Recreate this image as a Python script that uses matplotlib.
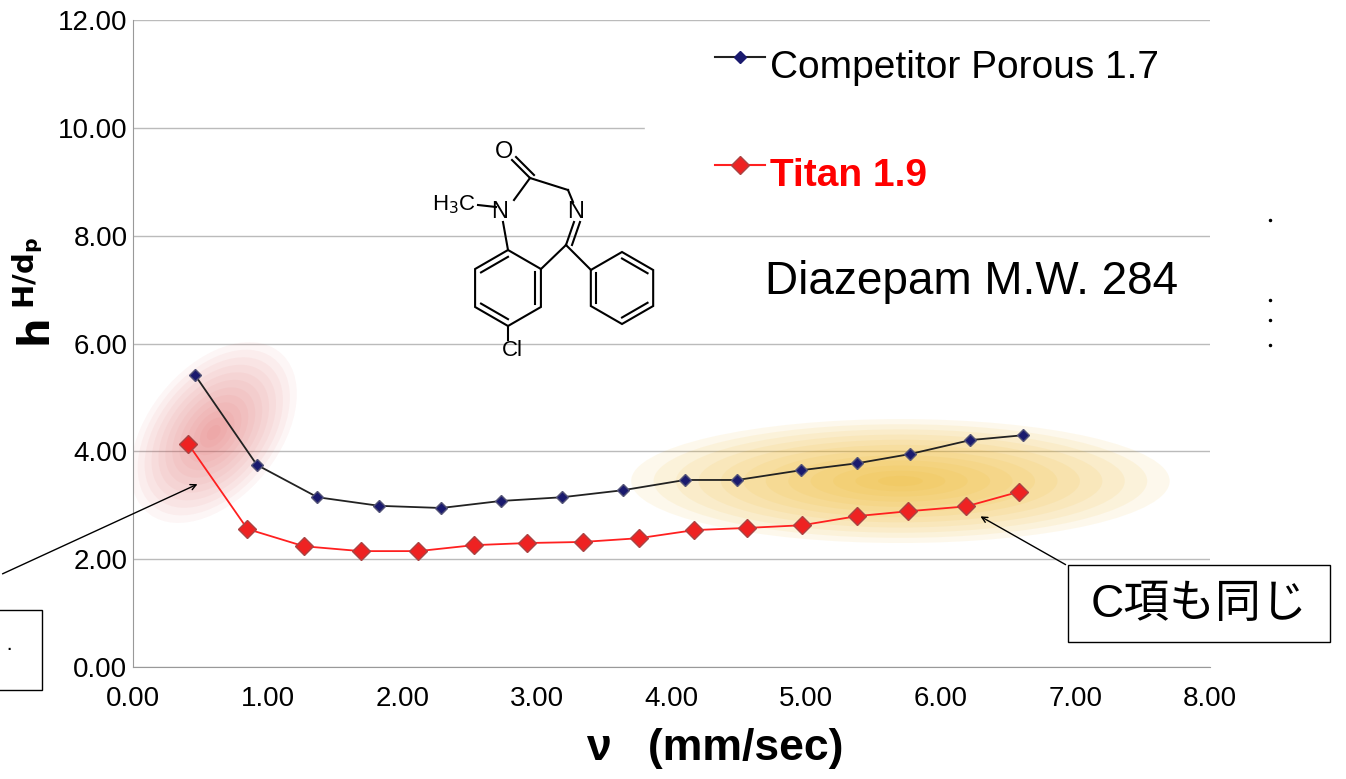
import numpy as np
import matplotlib.pyplot as plt
from matplotlib.patches import Ellipse, Rectangle, Polygon

plt.rcParams['font.family'] = ['Liberation Sans', 'Noto Sans CJK JP', 'DejaVu Sans']

# --- datos ---
x_comp = [0.46, 0.92, 1.37, 1.83, 2.29, 2.73, 3.19, 3.64, 4.10, 4.49, 4.96, 5.38, 5.77, 6.22, 6.61]
y_comp = [5.42, 3.75, 3.15, 2.99, 2.95, 3.08, 3.15, 3.28, 3.47, 3.47, 3.65, 3.78, 3.95, 4.21, 4.30]
x_titan = [0.41, 0.85, 1.27, 1.69, 2.12, 2.53, 2.93, 3.34, 3.76, 4.17, 4.56, 4.97, 5.38, 5.76, 6.19, 6.58]
y_titan = [4.14, 2.56, 2.24, 2.15, 2.15, 2.26, 2.30, 2.32, 2.39, 2.54, 2.58, 2.63, 2.80, 2.89, 2.98, 3.25]
xticks = np.arange(0, 8.01, 1.0)
yticks = np.arange(0, 12.01, 2.0)

fig = plt.figure(figsize=(13.46, 7.79), dpi=100)
ax = fig.add_axes([0.0988, 0.1438, 0.8002, 0.8302])

# brillos
for k in range(12):
    s = 1 - k / 12
    ax.add_patch(Ellipse((0.6, 4.35), 1.1 * s, 3.4 * s, angle=-10, color='#e05050',
                         alpha=0.05, lw=0, zorder=1))
    ax.add_patch(Ellipse((5.7, 3.45), 4.0 * s, 2.3 * s, color='#f0b010',
                         alpha=0.08, lw=0, zorder=1))

ax.plot(x_comp, y_comp, color='#222222', lw=1.3, marker='D', ms=6,
        mfc='#1a1a6e', mec='#555577', zorder=3, label='Competitor Porous 1.7')
ax.plot(x_titan, y_titan, color='#ff2020', lw=1.3, marker='D', ms=9,
        mfc='#ee2222', mec='#aa4444', zorder=3, label='Titan 1.9')

ax.set_xlim(0, 8)
ax.set_ylim(0, 12)
ax.set_xticks(xticks)
ax.set_yticks(yticks)
ax.set_xticklabels([f'{v:.2f}' for v in xticks], fontsize=20)
ax.set_yticklabels([f'{v:.2f}' for v in yticks], fontsize=20)
ax.grid(axis='y', color='#bbbbbb', lw=1)
ax.set_axisbelow(True)
for s in ['top', 'right']:
    ax.spines[s].set_visible(False)
for s in ['left', 'bottom']:
    ax.spines[s].set_color('#999999')
ax.tick_params(axis='x', length=0, pad=14)
ax.tick_params(axis='y', length=0, pad=4)
ax.set_xlabel(r'ν   (mm/sec)', fontsize=32, fontweight='bold')
ax.xaxis.set_label_coords(0.54, -0.095, transform=ax.transAxes)
ax.xaxis.label.set_va('top')
ax.set_ylabel(r'$\mathbf{h}^{\ \mathbf{H/d_p}}$', fontsize=30)
ax.yaxis.set_label_coords(-0.068, 0.58)

# leyenda manual / textos
ov = fig.add_axes([0, 0, 1, 1])
ov.set_xlim(0, 1346)
ov.set_ylim(779, 0)
ov.axis('off')
ov.add_patch(Rectangle((645, 45), 590, 85, color='white', zorder=1))
ov.plot([715, 765], [57, 57], color='#222222', lw=1.5)
ov.plot([740], [57], marker='D', color='#1a1a6e', ms=6)
ov.text(770, 68, 'Competitor Porous 1.7', fontsize=28, va='center')
ov.plot([715, 765], [165, 165], color='#ff2020', lw=1.5)
ov.plot([740], [165], marker='D', color='#ee2222', mec='#aa4444', ms=9)
ov.text(770, 176, 'Titan 1.9', fontsize=28, va='center', color='#ff0000', fontweight='bold')
ov.text(765, 282, 'Diazepam M.W. 284', fontsize=33, va='center')
for yy in [220, 300, 320, 345]:
    ov.plot([1270], [yy], marker='.', color='k', ms=3)

# molécula (aproximada)
def ring(cx, cy, r, rot, inner):
    ang = np.deg2rad(np.arange(6) * 60 + rot)
    pts = np.c_[cx + r * np.cos(ang), cy + r * np.sin(ang)]
    ov.add_patch(Polygon(pts, fill=False, lw=1.5, ec='k'))
    for i in inner:
        a, b = pts[i], pts[(i + 1) % 6]
        c = np.array([cx, cy])
        a2 = a + (c - a) * 0.18
        b2 = b + (c - b) * 0.18
        ov.plot([a2[0], b2[0]], [a2[1], b2[1]], color='k', lw=1.5)
    return pts

ring(508, 288, 38, 30, [1, 3, 5])
ring(622, 288, 36, 30, [0, 2, 4])
seg = [((503, 222), (508, 250)), ((496, 207), (478, 205)), ((514, 200), (530, 178)),
       ((530, 178), (512, 160)), ((534, 175), (516, 157)), ((530, 178), (568, 190)),
       ((568, 190), (573, 202)), ((574, 222), (566, 245)), ((580, 222), (572, 245)),
       ((566, 245), (541, 269)), ((566, 245), (591, 270)), ((508, 326), (508, 340))]
for a, b in seg:
    ov.plot([a[0], b[0]], [a[1], b[1]], color='k', lw=1.5)
ov.text(504, 152, 'O', fontsize=17, ha='center', va='center')
ov.text(500, 212, 'N', fontsize=17, ha='center', va='center')
ov.text(576, 212, 'N', fontsize=17, ha='center', va='center')
ov.text(454, 205, r'H$_3$C', fontsize=16, ha='center', va='center')
ov.text(512, 350, 'Cl', fontsize=16, ha='center', va='center')

# anotaciones
ov.annotate('', xy=(200, 483), xytext=(0, 575),
            arrowprops=dict(arrowstyle='->', color='k', lw=1))
ov.add_patch(Rectangle((-5, 610), 47, 80, fill=False, ec='k', lw=1))
ov.text(5, 650, '·', fontsize=16, va='center')
ov.add_patch(Rectangle((1068, 565), 262, 77, fc='white', ec='k', lw=1))
ov.text(1199, 605, 'C項も同じ', fontsize=33, ha='center', va='center')
ov.annotate('', xy=(978, 515), xytext=(1068, 566),
            arrowprops=dict(arrowstyle='->', color='k', lw=1))

fig.savefig('out.png', dpi=100)
